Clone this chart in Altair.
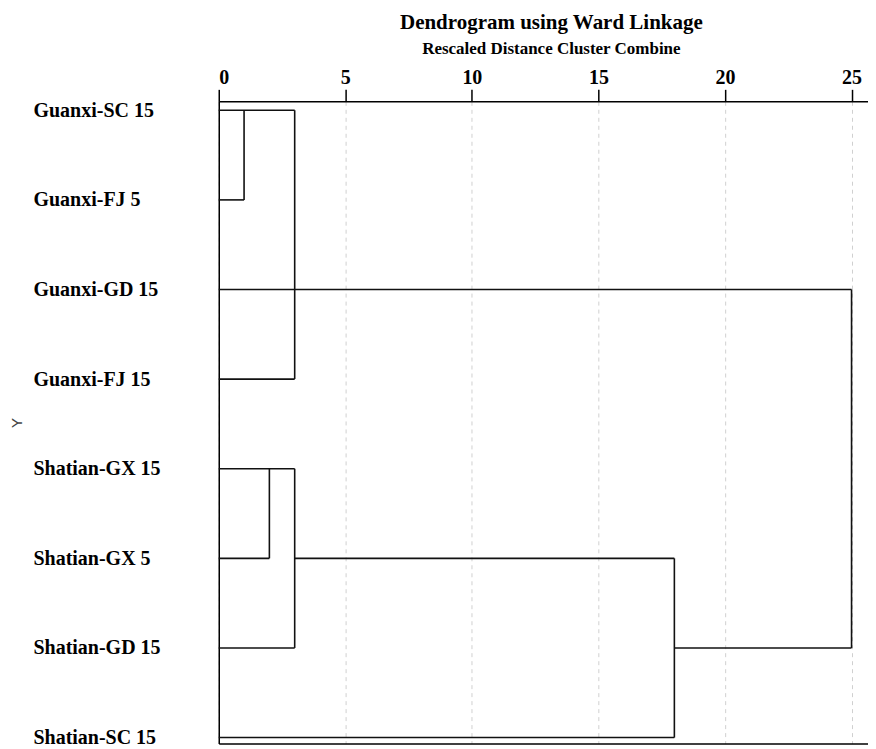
import json
import altair as alt
import pandas as pd

# Leaf labels, top to bottom
labels = [
    "Guanxi-SC 15", "Guanxi-FJ 5", "Guanxi-GD 15", "Guanxi-FJ 15",
    "Shatian-GX 15", "Shatian-GX 5", "Shatian-GD 15", "Shatian-SC 15",
]

# Horizontal dendrogram segments: row index, start distance, end distance
h_row = [0, 1, 2, 3, 4, 5, 6, 5, 7, 6]
h_start = [0, 0, 0, 0, 0, 0, 0, 3, 0, 18]
h_end = [3, 1, 25, 3, 3, 2, 3, 18, 18, 25]

# Vertical dendrogram segments: distance, from row, to row
v_dist = [1, 3, 2, 3, 18, 25]
v_from = [0, 0, 4, 4, 5, 2]
v_to = [1, 3, 5, 6, 7, 6]

x_ticks = [0, 5, 10, 15, 20, 25]

rows = []
for r, a, b in zip(h_row, h_start, h_end):
    rows.append({"x": a, "x2": b, "y": r, "y2": r})
for d, a, b in zip(v_dist, v_from, v_to):
    rows.append({"x": d, "x2": d, "y": a, "y2": b})
df = pd.DataFrame(rows)

FONT = "Liberation Serif"
W, H = 650, 643
x_scale = alt.Scale(domain=[0, 25.65], nice=False, zero=False)
y_scale = alt.Scale(domain=[-0.1, 7.067], nice=False, zero=False, reverse=True)

label_expr = json.dumps(labels) + "[datum.value]"

segments = alt.Chart(df).mark_rule(color="#111111", strokeWidth=1.6).encode(
    x=alt.X("x:Q", scale=x_scale, axis=alt.Axis(
        orient="top", values=x_ticks, title=None, format="d",
        labelFont=FONT, labelFontWeight="bold", labelFontSize=20, labelColor="black",
        labelPadding=2, tickSize=12, tickColor="black", tickWidth=1.5,
        domainColor="black", domainWidth=1.5,
        grid=True, gridDash=[4, 4], gridColor="#d0d0d0", gridWidth=1,
    )),
    x2="x2:Q",
    y=alt.Y("y:Q", scale=y_scale, axis=alt.Axis(
        values=list(range(len(labels))), labelExpr=label_expr,
        title="Y", titleFont="Liberation Sans", titleFontSize=15,
        titleFontWeight="normal", titleColor="#444444",
        titleX=-202, titleY=H / 2, titleAlign="center", titleBaseline="middle",
        labelFont=FONT, labelFontWeight="bold", labelFontSize=20, labelColor="black",
        labelAlign="left", labelBaseline="middle", labelPadding=186,
        ticks=False, grid=False, domainColor="black", domainWidth=1.5,
    )),
    y2="y2:Q",
)

bottom = alt.Chart(df).mark_rule(strokeOpacity=0).encode(
    x=alt.X("x:Q", scale=x_scale, axis=alt.Axis(
        orient="bottom", labels=False, ticks=False, grid=False, title=None,
        domainColor="black", domainWidth=1.5,
    )),
)

chart = alt.layer(segments, bottom).resolve_axis(x="independent").properties(
    width=W, height=H,
    title=alt.TitleParams(
        text="Dendrogram using Ward Linkage",
        subtitle="Rescaled Distance Cluster Combine",
        font=FONT, fontSize=21, fontWeight="bold", color="black",
        subtitleFont=FONT, subtitleFontSize=17, subtitleFontWeight="bold",
        subtitleColor="black", subtitlePadding=8,
        anchor="middle", dx=8, offset=10,
    ),
    autosize=alt.AutoSizeParams(type="none"),
    padding={"left": 211, "top": 93, "right": 0, "bottom": 8},
).configure_view(stroke=None)

chart.save("out.html", embed_options={"renderer": "svg", "actions": False})
